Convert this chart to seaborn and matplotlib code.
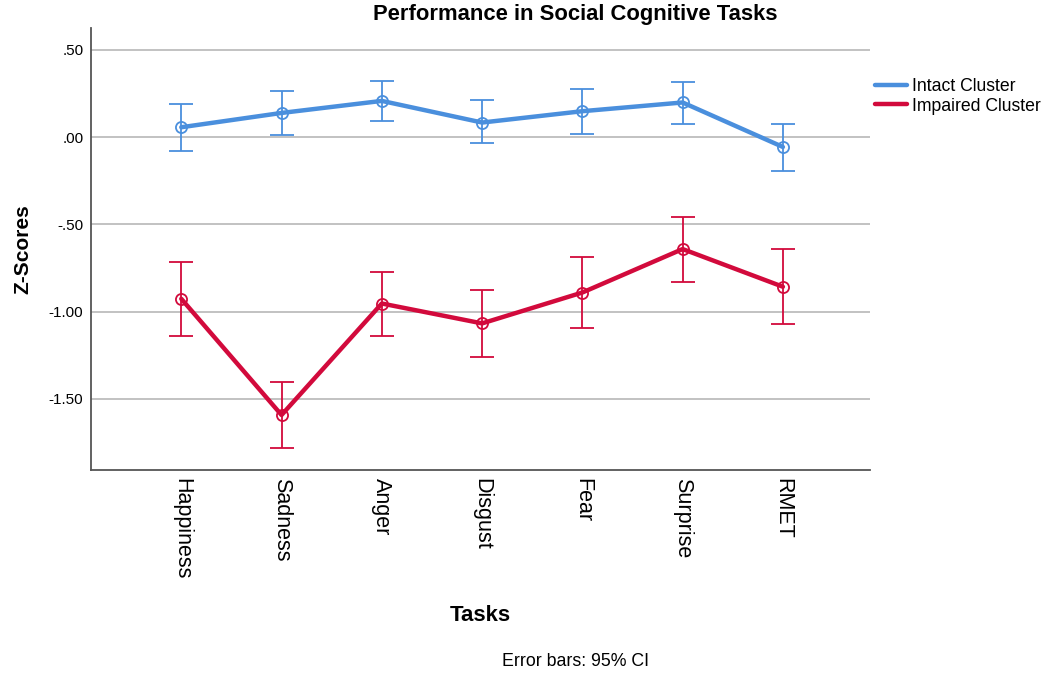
import pandas as pd
import matplotlib
matplotlib.use('Agg')
import matplotlib.pyplot as plt
from matplotlib.lines import Line2D
import seaborn as sns

#-------------------------------------------------------------------------

# Tasks on the x axis
tasks = ['Happiness', 'Sadness', 'Anger', 'Disgust', 'Fear', 'Surprise', 'RMET']

# Intact cluster: mean and 95% CI bounds
intact_mean = [0.057, 0.139, 0.208, 0.084, 0.149, 0.199, -0.056]
intact_low = [-0.078, 0.015, 0.092, -0.036, 0.021, 0.076, -0.193]
intact_high = [0.189, 0.263, 0.322, 0.212, 0.277, 0.317, 0.078]

# Impaired cluster: mean and 95% CI bounds
impaired_mean = [-0.926, -1.592, -0.953, -1.067, -0.890, -0.641, -0.857]
impaired_low = [-1.138, -1.783, -1.138, -1.258, -1.092, -0.832, -1.071]
impaired_high = [-0.714, -1.401, -0.771, -0.874, -0.689, -0.456, -0.643]

y_ticks = [0.5, 0.0, -0.5, -1.0, -1.5]
y_tick_labels = ['.50', '.00', '-.50', '-1.00', '-1.50']

#-------------------------------------------------------------------------

def main():

    sns.set_style('white')
    plt.rcParams['font.family'] = ['Liberation Sans', 'DejaVu Sans']
    for key in ['text.color', 'axes.labelcolor', 'xtick.color', 'ytick.color']:
        plt.rcParams[key] = 'black'

    # Long table of the two clusters
    data = pd.DataFrame({
        'Task': tasks * 2,
        'Z': intact_mean + impaired_mean,
        'Low': intact_low + impaired_low,
        'High': intact_high + impaired_high,
        'Cluster': ['Intact Cluster'] * len(tasks) + ['Impaired Cluster'] * len(tasks),
    })
    colors = {'Intact Cluster': '#4a8fdd', 'Impaired Cluster': '#d20a3c'}

    fig = plt.figure(figsize=(10.5, 6.74), dpi=100)
    ax = fig.add_axes([0.0867, 0.3027, 0.742, 0.6553])

    # Gridlines behind the data
    ax.set_axisbelow(True)
    ax.yaxis.grid(True, color='#b8b8b8', linewidth=1.2)

    # Error bars: 95% CI
    for name, grp in data.groupby('Cluster', sort=False):
        ax.errorbar(grp['Task'], grp['Z'],
                    yerr=[grp['Z'] - grp['Low'], grp['High'] - grp['Z']],
                    fmt='none', ecolor=colors[name], elinewidth=1.3,
                    capsize=8.6, capthick=1.3, zorder=2)

    # Mean lines with hollow circle markers
    n_before = len(ax.lines)
    sns.lineplot(data=data, x='Task', y='Z', hue='Cluster', palette=colors,
                 sort=False, linewidth=3.2, marker='o', markersize=8,
                 legend=False, ax=ax, zorder=3)
    for line in ax.lines[n_before:]:
        line.set_markerfacecolor('none')
        line.set_markeredgecolor(line.get_color())
        line.set_markeredgewidth(1.3)

    ax.set_xlim(-0.9, 6.87)
    ax.set_ylim(-1.907, 0.624)
    ax.set_yticks(y_ticks)
    ax.set_yticklabels(y_tick_labels, fontsize=11)
    ax.tick_params(axis='x', labelsize=15.5, rotation=-90, length=0, pad=6)
    ax.tick_params(axis='y', length=0, pad=5.5)
    for lbl in ax.get_xticklabels():
        lbl.set_verticalalignment('top')

    for side in ['top', 'right']:
        ax.spines[side].set_visible(False)
    for side in ['left', 'bottom']:
        ax.spines[side].set_color('#555555')
        ax.spines[side].set_linewidth(1.3)

    ax.set_ylabel('Z-Scores', fontsize=15, fontweight='bold', labelpad=12)
    ax.set_xlabel('Tasks', fontsize=16, fontweight='bold', labelpad=18)

    # Title and footnote centred on the whole chart
    fig.text(0.548, 1 - 20 / 674, 'Performance in Social Cognitive Tasks',
             ha='center', va='baseline', fontsize=15.8, fontweight='bold')
    fig.text(0.548, 1 - 661 / 674, 'Error bars: 95% CI', ha='center',
             va='center', fontsize=12.8)

    # Legend outside on the right
    handles = [Line2D([], [], color=colors[k], linewidth=3.2) for k in colors]
    fig.legend(handles, list(colors.keys()), loc='upper left',
               bbox_to_anchor=(875 / 1050, 1 - 78 / 674), frameon=False,
               fontsize=12.7, handlelength=1.8, handletextpad=0.3,
               labelspacing=0.15, borderaxespad=0.0, borderpad=0.0)

    fig.savefig('out.png', dpi=100)

#-------------------------------------------------------------------------

if __name__ == '__main__':
    main()
